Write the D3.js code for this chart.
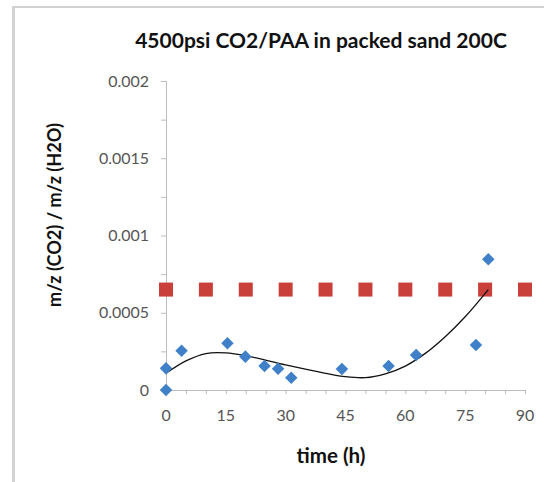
<!DOCTYPE html>
<html>
<head>
<meta charset="utf-8">
<script src="https://cdn.jsdelivr.net/npm/d3@7"></script>
<style>
  body { margin: 0; background: #fff; }
  svg { display: block; font-family: Lato, "Open Sans", sans-serif; }
</style>
</head>
<body>
<svg width="544" height="482"></svg>
<script>
// measured series (time in hours, ratio m/z CO2 / m/z H2O)
const measTime = [0, 0, 3.9, 15.4, 19.9, 24.7, 28.1, 31.4, 44.1, 55.8, 62.7, 77.7, 80.8];
const measRatio = [0, 0.00014, 0.000254, 0.000302, 0.000216, 0.000155, 0.000138, 0.00008, 0.000136, 0.000155, 0.000227, 0.000291, 0.000846];

// reference level series (red squares)
const refTime = [0, 10, 20, 30, 40, 50, 60, 70, 80, 90];
const refRatio = [0.00065, 0.00065, 0.00065, 0.00065, 0.00065, 0.00065, 0.00065, 0.00065, 0.00065, 0.00065];

// polynomial trendline
const trendTime = [0, 5, 10, 15, 20, 30, 40, 45, 50, 55, 60, 65, 70, 75, 80.8];
const trendRatio = [0.000108, 0.000188, 0.000236, 0.00024, 0.000222, 0.000162, 0.000108, 0.000086, 0.00008, 0.000105, 0.000155, 0.000237, 0.000345, 0.000474, 0.00065];

const xTicks = [0, 15, 30, 45, 60, 75, 90];
const yTicks = [0, 0.0005, 0.001, 0.0015, 0.002];
const yTickLabels = ["0", "0.0005", "0.001", "0.0015", "0.002"];

const svg = d3.select("svg");

// scale a text's font so it spans the given width
function fitWidth(sel, target) {
  const w = sel.node().getComputedTextLength();
  const fs = parseFloat(sel.attr("font-size"));
  return fs * target / w;
}

// outer frame (only top and left edges are visible)
svg.append("line").attr("x1", 13.5).attr("x2", 13.5).attr("y1", 7).attr("y2", 482)
  .attr("stroke", "#d2d2d2").attr("stroke-width", 3);
svg.append("line").attr("x1", 12).attr("x2", 544).attr("y1", 7).attr("y2", 7)
  .attr("stroke", "#d2d2d2").attr("stroke-width", 2);

const x = d3.scaleLinear().domain([0, 90]).range([166, 525]);
const y = d3.scaleLinear().domain([0, 0.002]).range([390, 81]);

const axisColor = "#bdbdbd";
const labelColor = "#555";

// tick label size from the "0.0015" label width
const probe = svg.append("text").attr("font-size", 14).text("0.0015");
const tickSize = fitWidth(probe, 50);
probe.remove();

// y axis
const yAxis = svg.append("g").attr("transform", `translate(${x(0)},0)`)
  .call(d3.axisLeft(y).tickValues(d3.range(0, 0.00201, 0.00025)).tickSize(5).tickFormat(""));
svg.append("g").selectAll("text").data(yTicks).enter().append("text")
  .attr("x", 149).attr("y", d => y(d)).attr("dy", "0.35em")
  .attr("text-anchor", "end").attr("font-size", tickSize).attr("fill", labelColor)
  .text((d, i) => yTickLabels[i]);

// x axis
const xAxis = svg.append("g").attr("transform", `translate(0,${y(0)})`)
  .call(d3.axisBottom(x).tickValues(d3.range(0, 91, 5)).tickSize(4).tickFormat(""));
svg.append("g").selectAll("text").data(xTicks).enter().append("text")
  .attr("x", d => x(d)).attr("y", 421)
  .attr("text-anchor", "middle").attr("font-size", tickSize).attr("fill", labelColor)
  .text(d => d);

[yAxis, xAxis].forEach(g => {
  g.select(".domain").attr("stroke", axisColor);
  g.selectAll(".tick line").attr("stroke", axisColor);
});

// reference squares
svg.append("g").selectAll("rect").data(refTime).enter().append("rect")
  .attr("x", d => x(d) - 7).attr("y", (d, i) => y(refRatio[i]) - 7)
  .attr("width", 14).attr("height", 14)
  .attr("fill", "#c9403b");

// trendline
const trend = d3.line().x(d => x(d[0])).y(d => y(d[1])).curve(d3.curveCatmullRom);
svg.append("path").datum(trendTime.map((t, i) => [t, trendRatio[i]]))
  .attr("d", trend).attr("fill", "none").attr("stroke", "#111").attr("stroke-width", 1.3);

// measured diamonds
svg.append("g").selectAll("path").data(measTime).enter().append("path")
  .attr("d", d3.symbol().type(d3.symbolDiamond2).size(100))
  .attr("transform", (d, i) => `translate(${x(d)},${y(measRatio[i])})`)
  .attr("fill", "#3f80c8");

// titles
const title = svg.append("text").attr("x", 321).attr("y", 48).attr("text-anchor", "middle")
  .attr("font-size", 16).attr("font-weight", "bold").attr("fill", "#111")
  .text("4500psi CO2/PAA in packed sand 200C");
title.attr("font-size", fitWidth(title, 372));

const xTitle = svg.append("text").attr("x", 331).attr("y", 463).attr("text-anchor", "middle")
  .attr("font-size", 16).attr("font-weight", "bold").attr("fill", "#111")
  .text("time (h)");
xTitle.attr("font-size", fitWidth(xTitle, 69));

const yTitle = svg.append("text").attr("transform", "translate(61,215) rotate(-90)").attr("text-anchor", "middle")
  .attr("font-size", 16).attr("font-weight", "bold").attr("fill", "#111")
  .text("m/z (CO2) / m/z (H2O)");
yTitle.attr("font-size", fitWidth(yTitle, 184));
</script>
</body>
</html>
